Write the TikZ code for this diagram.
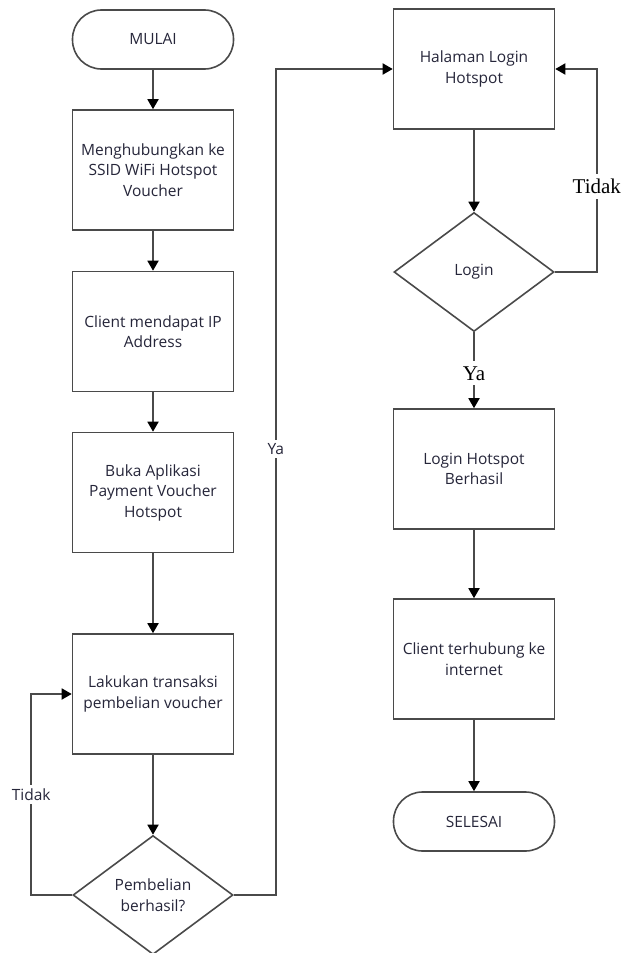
\documentclass[tikz,border=0pt]{standalone}
\usepackage{fontspec}
\setmainfont{Open Sans}
\newfontfamily\timesfont{Liberation Serif}
\usetikzlibrary{shapes.geometric,arrows.meta}
\definecolor{garis}{HTML}{4A4A4A}
\definecolor{teks}{HTML}{26263A}

\begin{document}
\begin{tikzpicture}[x=1pt,y=-1pt,
    proses/.style={rectangle, draw=garis, line width=1.6pt, fill=white, text=teks,
        minimum width=161pt, minimum height=120pt, inner sep=0pt, align=center,
        font=\fontsize{15.5}{20.5}\selectfont},
    terminal/.style={proses, rounded corners=29pt, minimum height=59pt},
    keputusan/.style={diamond, draw=garis, line width=1.6pt, fill=white, text=teks,
        aspect=1.333, minimum width=160pt, minimum height=119pt, inner sep=0pt,
        align=center, font=\fontsize{15.5}{20.5}\selectfont},
    panah/.style={draw=garis, line width=1.8pt, -{Triangle[width=11pt,length=10pt,color=black]}},
    label/.style={fill=white, text=teks, inner xsep=1pt, font=\fontsize{15.5}{17}\selectfont},
    labelserif/.style={fill=white, text=black, inner xsep=1pt, inner ysep=5pt, font=\timesfont\fontsize{21}{22}\selectfont}]
    \def\kiri{153}
    \def\kanan{474}
    \useasboundingbox (0,0) rectangle (624,953);

    % Left column
    \node[terminal] (mulai) at (\kiri, 39.5) {MULAI};
    \node[proses] (hubung) at (\kiri, 170) {Menghubungkan ke\\SSID WiFi Hotspot\\Voucher};
    \node[proses] (ip) at (\kiri, 331.5) {Client mendapat IP\\Address};
    \node[proses] (aplikasi) at (\kiri, 492.5) {Buka Aplikasi\\Payment Voucher\\Hotspot};
    \node[proses] (transaksi) at (\kiri, 694) {Lakukan transaksi\\pembelian voucher};
    \node[keputusan] (beli) at (\kiri, 895) {Pembelian\\berhasil?};

    % Right column
    \node[proses] (halaman) at (\kanan, 69) {Halaman Login\\Hotspot};
    \node[keputusan] (login) at (\kanan, 272) {Login};
    \node[proses] (berhasil) at (\kanan, 469) {Login Hotspot\\Berhasil};
    \node[proses] (internet) at (\kanan, 659) {Client terhubung ke\\internet};
    \node[terminal] (selesai) at (\kanan, 821.5) {SELESAI};

    % Straight arrows
    \draw[panah] (mulai) -- (hubung);
    \draw[panah] (hubung) -- (ip);
    \draw[panah] (ip) -- (aplikasi);
    \draw[panah] (aplikasi) -- (transaksi);
    \draw[panah] (transaksi) -- (beli);
    \draw[panah] (halaman) -- (login);
    \draw[panah] (login) -- (berhasil) node[pos=0.54, labelserif] {Ya};
    \draw[panah] (berhasil) -- (internet);
    \draw[panah] (internet) -- (selesai);

    % Loops back
    \draw[panah] (beli.west) -- ++(-41,0) |- (transaksi.west) node[pos=0.25, label] {Tidak};
    \draw[panah] (beli.east) -- ++(42,0) |- (halaman.west) node[pos=0.27, label] {Ya};
    \draw[panah] (login.east) -- ++(42,0) |- (halaman.east) node[pos=0.21, labelserif] {Tidak};
\end{tikzpicture}
\end{document}
